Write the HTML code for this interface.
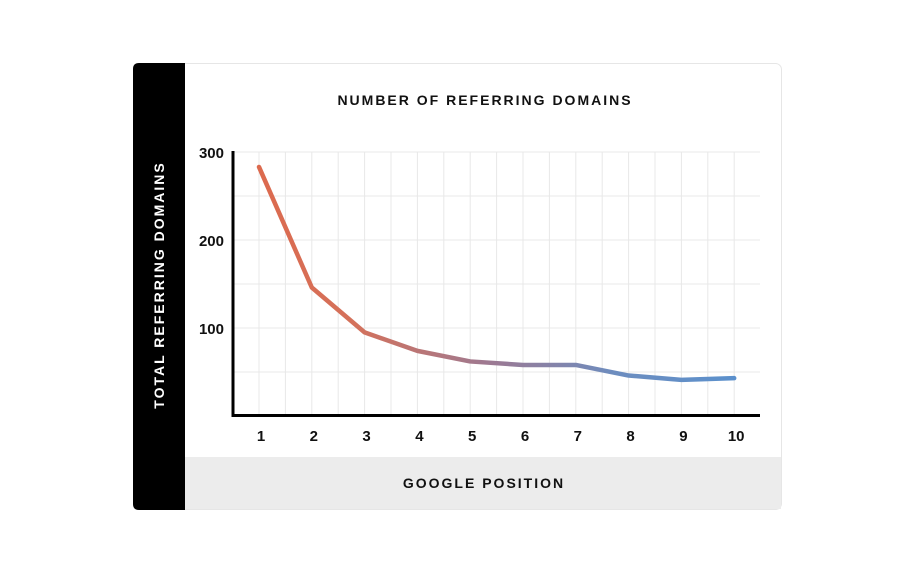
<!DOCTYPE html>
<html><head><meta charset="utf-8"><style>
body{margin:0;background:#fff;width:916px;height:573px;overflow:hidden;font-family:"Liberation Sans",sans-serif}
</style></head><body>
<svg width="916" height="573" viewBox="0 0 916 573">
<defs>
<linearGradient id="lg" gradientUnits="userSpaceOnUse" x1="259" y1="0" x2="734" y2="0">
<stop offset="0" stop-color="#dc6a4e"/><stop offset="0.2" stop-color="#d4715b"/>
<stop offset="0.5" stop-color="#9a7a95"/><stop offset="0.75" stop-color="#6d8dbf"/>
<stop offset="1" stop-color="#5b90cc"/></linearGradient>
</defs>
<rect x="133.5" y="63.5" width="648" height="446" rx="6" fill="#fff" stroke="#e6e6e6"/>
<rect x="185" y="457" width="596" height="52" fill="#ececec"/>
<path d="M139 63H185V510H139Q133 510 133 504V69Q133 63 139 63Z" fill="#000"/>
<text x="485" y="105" text-anchor="middle" font-size="14" font-weight="bold" letter-spacing="2" fill="#111">NUMBER OF REFERRING DOMAINS</text>
<text x="484" y="488" text-anchor="middle" font-size="14" font-weight="bold" letter-spacing="2" fill="#111">GOOGLE POSITION</text>
<text transform="translate(164,285) rotate(-90)" text-anchor="middle" font-size="14" font-weight="bold" letter-spacing="2" fill="#fff">TOTAL REFERRING DOMAINS</text>
<g id="grid"></g><g id="axes"></g><g id="marks"></g>
</svg>
<script>
const categories=[1,2,3,4,5,6,7,8,9,10];
const values=[283,146,95,74,62,58,58,46,41,43];
const yTicks=[100,200,300];
const yGrid=[50,100,150,200,250,300];
const NS="http://www.w3.org/2000/svg";
const X0=259,STEP=52.8,Y0=416,YS=0.88;
function xs(c){return X0+(c-1)*STEP;}
function ys(v){return Y0-v*YS;}
function mk(tag,attrs,parent){const e=document.createElementNS(NS,tag);for(const k in attrs)e.setAttribute(k,attrs[k]);document.getElementById(parent).appendChild(e);return e;}
yGrid.forEach(v=>{const l=mk('line',{x1:233,x2:760,y1:ys(v),y2:ys(v),stroke:'#e8e8e8','stroke-width':1},'grid');

});
for(let i=0;i<=categories.length*2-1;i++){const x=X0+i*STEP/2;if(x>760)break;const l=mk('line',{x1:x,x2:x,y1:ys(300),y2:Y0,stroke:'#e8e8e8','stroke-width':1},'grid');

}
const ya=mk('line',{x1:233,x2:233,y1:151,y2:417,stroke:'#000','stroke-width':3},'axes');


const xa=mk('line',{x1:232,x2:760,y1:415.5,y2:415.5,stroke:'#000','stroke-width':3},'axes');


yTicks.forEach(v=>{const t=mk('text',{x:224,y:ys(v)+6,'text-anchor':'end','font-size':15,'font-weight':'bold',fill:'#111'},'axes');t.textContent=v;

});
categories.forEach(c=>{const t=mk('text',{x:xs(c)+2,y:441,'text-anchor':'middle','font-size':15,'font-weight':'bold',fill:'#111'},'axes');t.textContent=c;

});
const p=mk('polyline',{points:categories.map((c,i)=>xs(c)+','+ys(values[i])).join(' '),fill:'none',stroke:'url(#lg)','stroke-width':4.5,'stroke-linejoin':'round','stroke-linecap':'round'},'marks');


</script>
</body></html>
